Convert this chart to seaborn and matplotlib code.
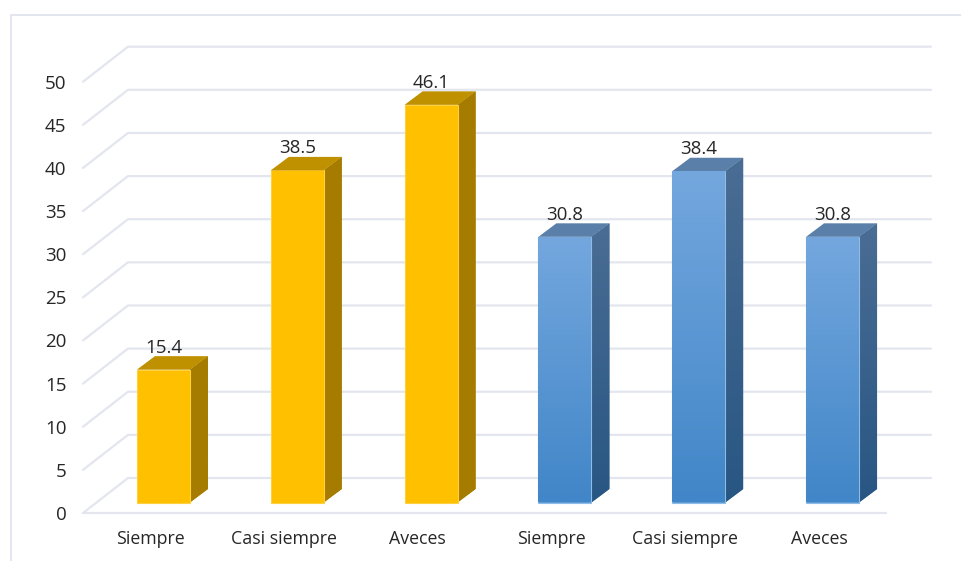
import matplotlib.pyplot as plt
from matplotlib.patches import Polygon
from matplotlib.transforms import Affine2D
import numpy as np
import pandas as pd
import seaborn as sns

categorias = ['Siempre', 'Casi siempre', 'Aveces', 'Siempre', 'Casi siempre', 'Aveces']
valores = [15.4, 38.5, 46.1, 30.8, 38.4, 30.8]
grupos = ['a', 'a', 'a', 'b', 'b', 'b']
marcas_y = [0, 5, 10, 15, 20, 25, 30, 35, 40, 45, 50]

W, H = 962, 561
GRID = '#e3e6ee'

sns.set_theme(style='white')
plt.rcParams['font.family'] = ['Open Sans', 'DejaVu Sans']

# las categorias se repiten, asi que el eje x va por posicion
df = pd.DataFrame({'pos': list(range(len(categorias))), 'valor': valores, 'grupo': grupos})

fig = plt.figure(figsize=(W / 100, H / 100), dpi=100)
# eje frontal del piso: x 83-886 px, y 513-81.7 px
ax = fig.add_axes([83 / W, 1 - 513 / H, 803 / W, 431.3 / H])

sns.barplot(data=df, x='pos', y='valor', hue='grupo', dodge=False,
            palette={'a': '#ffc000', 'b': '#5b9bd5'}, width=0.396, legend=False,
            saturation=1, ax=ax)
ax.set_xticks(df['pos'])
ax.set_xticklabels(categorias)
ax.set_xlim(-0.5, 5.5)
ax.set_ylim(0, 50)
ax.set_xlabel('')
ax.set_ylabel('')
sns.despine(ax=ax, left=True, bottom=True, top=True, right=True)

px_x = 803 / 6
px_y = 431.3 / 50

# paredes: cuadricula del fondo y diagonales
for v in marcas_y:
    dx, dy = 45 / px_x, 35 / px_y
    ax.plot([-0.5, -0.5 + dx, 5.5 + dx], [v, v + dy, v + dy], color=GRID, lw=1.6,
            clip_on=False, zorder=0.5)
ax.plot([-0.5, 5.5], [0, 0], color=GRID, lw=1.6, clip_on=False, zorder=0.5)

ax.tick_params(axis='both', length=0)
ax.set_yticks(marcas_y)
ax.tick_params(axis='y', labelsize=13.5, labelcolor='#262626', pad=12)
ax.tick_params(axis='x', labelsize=12.8, labelcolor='#262626', pad=12)

# desplazamiento de las barras respecto al eje frontal
offset = ax.transData + Affine2D().translate(13.5, 10.5)
depth_x, depth_y = 18 / px_x, 13.5 / px_y

colores = {
    'a': dict(front=('#ffc000', '#ffc000'), side=('#a67c00', '#a67c00'), top='#bf9000', edge='#ffd040'),
    'b': dict(front=('#74a7de', '#4186c8'), side=('#4a6d94', '#285683'), top='#5a7fa8', edge='#8fbbe6'),
}


def vertical(c1, c2):
    a = np.array(plt.matplotlib.colors.to_rgb(c1))
    b = np.array(plt.matplotlib.colors.to_rgb(c2))
    return np.linspace(a, b, 128)[:, None, :]


for bar, valor, grupo in zip(ax.patches, valores, grupos):
    x0, w = bar.get_x(), bar.get_width()
    c = colores[grupo]
    bar.set_transform(offset)
    bar.set_clip_on(False)
    bar.set_zorder(3)
    bar.set_edgecolor(c['edge'])
    bar.set_linewidth(0.8)

    if grupo == 'b':
        img = ax.imshow(vertical(*c['front']), extent=(x0, x0 + w, 0, valor), transform=offset,
                        aspect='auto', zorder=3.1)
        img.set_clip_path(bar)

    lado = [(x0 + w, 0), (x0 + w + depth_x, depth_y), (x0 + w + depth_x, valor + depth_y), (x0 + w, valor)]
    p_lado = Polygon(lado, transform=offset, facecolor=c['side'][0], edgecolor='none',
                     clip_on=False, zorder=2.9)
    ax.add_patch(p_lado)
    img = ax.imshow(vertical(*c['side']), extent=(x0 + w, x0 + w + depth_x, 0, valor + depth_y),
                    transform=offset, aspect='auto', zorder=2.95)
    img.set_clip_path(p_lado)

    techo = [(x0, valor), (x0 + depth_x, valor + depth_y), (x0 + w + depth_x, valor + depth_y), (x0 + w, valor)]
    ax.add_patch(Polygon(techo, transform=offset, facecolor=c['top'], edgecolor='none',
                         clip_on=False, zorder=3))

    ax.annotate(f'{valor:.1f}', (x0 + w / 2, valor), xycoords=offset, xytext=(0, 22), textcoords='offset pixels',
                ha='center', va='center', fontsize=13.5, color='#262626', zorder=5, annotation_clip=False)

ax.set_xlim(-0.5, 5.5)
ax.set_ylim(0, 50)

# marco de la imagen
fig.add_artist(plt.Line2D([11 / W, 11 / W, 1], [0, 1 - 15 / H, 1 - 15 / H], color=GRID, lw=1.4))

fig.savefig('out.png', dpi=100)
